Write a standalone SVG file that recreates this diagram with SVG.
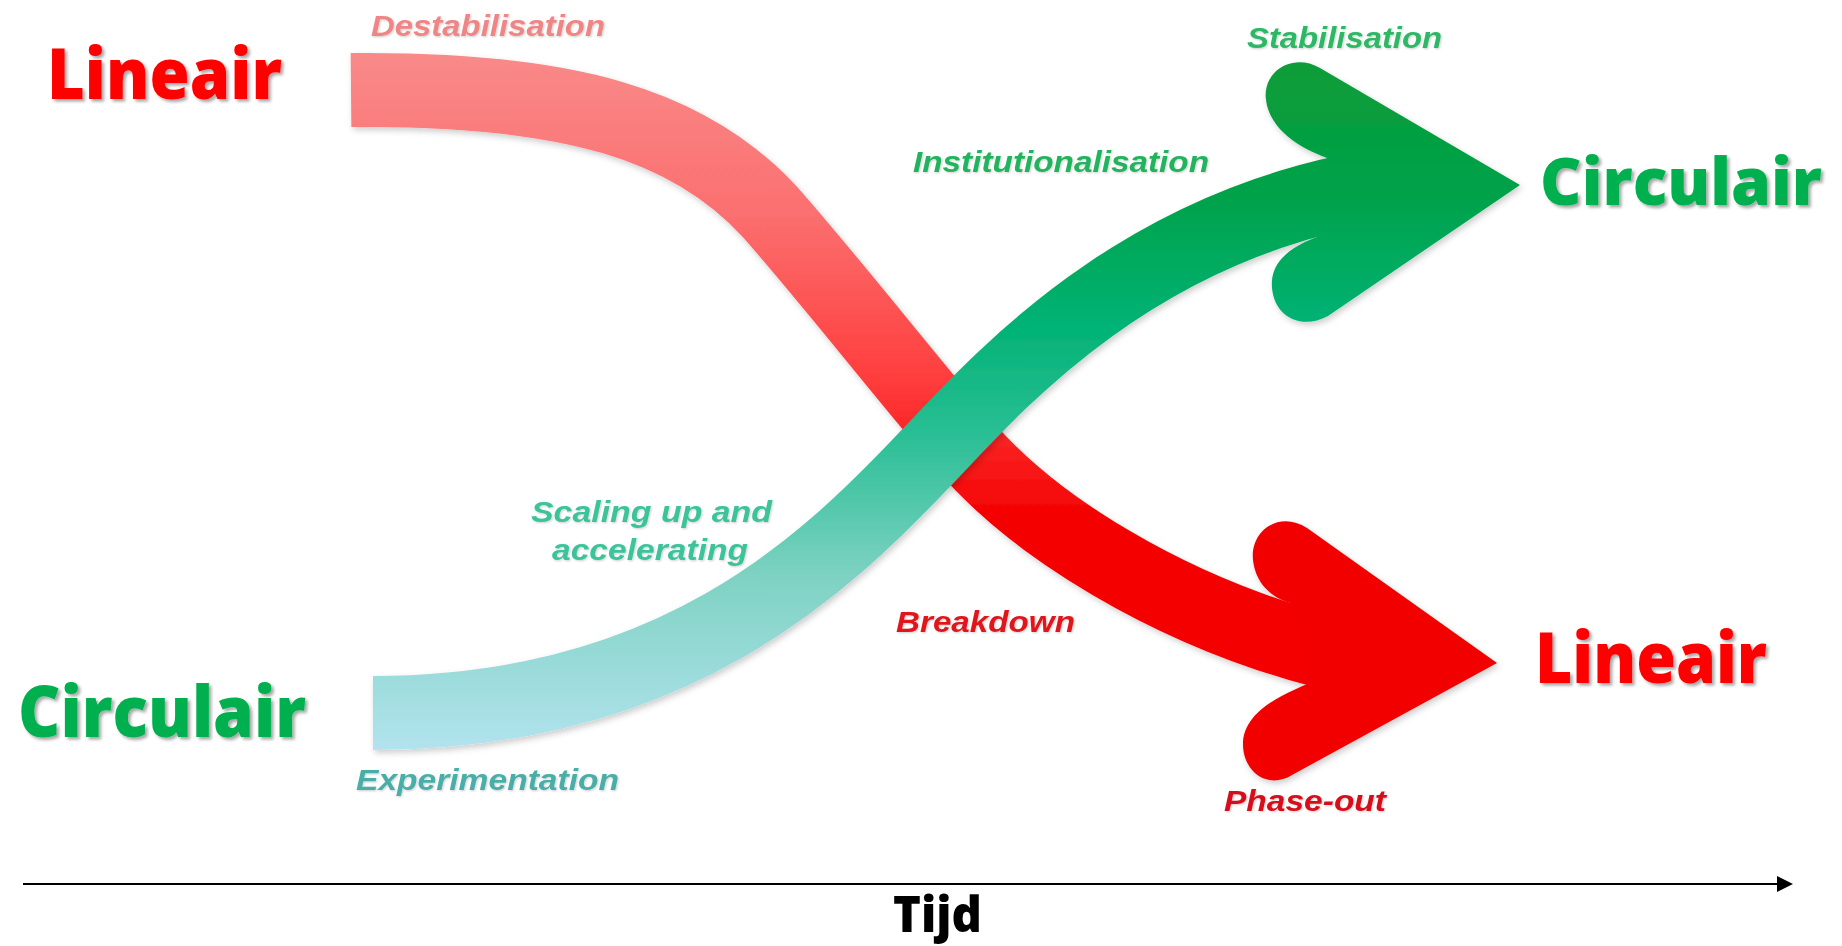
<svg xmlns="http://www.w3.org/2000/svg" width="1842" height="946" viewBox="0 0 1842 946">
<style>
.big{font-family:"Open Sans","Noto Sans","Liberation Sans",sans-serif;font-weight:800;font-size:70px;filter:url(#tsh)}
.red{fill:#ff0000}
.grn{fill:#00b050}
.lab{font-family:"Liberation Sans",Arial,sans-serif;font-weight:bold;font-style:italic;font-size:30px;filter:url(#lsh)}
.axis{stroke:#000;stroke-width:2;fill:none}
.tijd{font-family:"Open Sans","Noto Sans","Liberation Sans",sans-serif;font-weight:800;font-size:50px;fill:#000}
</style>
<defs>
<linearGradient id="gRed" gradientUnits="userSpaceOnUse" x1="0" y1="50" x2="0" y2="520">
<stop offset="0" stop-color="#f98a8a"/>
<stop offset="0.35" stop-color="#fb6f6f"/>
<stop offset="0.7" stop-color="#ff3d3d"/>
<stop offset="1" stop-color="#f40000"/>
</linearGradient>
<linearGradient id="gGrn" gradientUnits="userSpaceOnUse" x1="0" y1="60" x2="0" y2="750">
<stop offset="0" stop-color="#089c37"/>
<stop offset="0.2" stop-color="#04a24a"/>
<stop offset="0.38" stop-color="#00b274"/>
<stop offset="0.55" stop-color="#2cbf96"/>
<stop offset="0.75" stop-color="#7fd2c3"/>
<stop offset="1" stop-color="#b2e3ee"/>
</linearGradient>
<filter id="tsh" x="-1%" y="-10%" width="105%" height="125%">
<feDropShadow dx="2.5" dy="2.5" stdDeviation="1.5" flood-color="#000" flood-opacity="0.35"/>
</filter>
<filter id="lsh" x="-1%" y="-10%" width="105%" height="125%">
<feDropShadow dx="1" dy="1" stdDeviation="1" flood-color="#000" flood-opacity="0.2"/>
</filter>
<filter id="rsh" x="-5%" y="-8%" width="115%" height="120%">
<feDropShadow dx="2" dy="3" stdDeviation="3" flood-color="#000" flood-opacity="0.2"/>
</filter>
<marker id="axArrow" markerWidth="16" markerHeight="16" refX="0" refY="8" orient="auto" markerUnits="userSpaceOnUse">
<path d="M0,0 L16,8 L0,16 Z" fill="#000"/>
</marker>
</defs>
<rect width="1842" height="946" fill="#fff"/>

<g id="connectors">
<g id="red-ribbon" filter="url(#rsh)">
<path d="M351,90 C570,88 690,125 770,212 C830,280 900,370 960,440 C1030,525 1170,612 1330,653" fill="none" stroke="url(#gRed)" stroke-width="74"/>
<path d="M1497,663 L1307,528 C1280,510 1250,530 1253,560 C1256,585 1272,597 1290,603 L1310,683 C1280,695 1245,712 1243,742 C1242,772 1268,790 1292,775 Z" fill="#f20000"/>
</g>
<g id="green-ribbon" filter="url(#rsh)">
<path d="M373,713 C673,713 825,565 928,456 C997,383 1126,237 1350,191" fill="none" stroke="url(#gGrn)" stroke-width="74"/>
<path d="M1520,185 L1320,68 C1292,52 1262,72 1266,100 C1270,130 1300,148 1327,158 L1317,237 C1290,247 1270,262 1272,288 C1275,318 1302,330 1328,316 Z" fill="url(#gGrn)"/>
</g>
<g id="time-axis">
<line class="axis" x1="23" y1="884" x2="1777" y2="884" marker-end="url(#axArrow)"/>
</g>
</g>

<g id="node-lineair-top"><text class="big red" x="47" y="99" textLength="235" lengthAdjust="spacingAndGlyphs">Lineair</text></g>
<g id="node-circulair-bottom"><text class="big grn" x="18" y="737" textLength="288" lengthAdjust="spacingAndGlyphs">Circulair</text></g>
<g id="node-circulair-right"><text class="big grn" x="1540" y="205" font-size="66" textLength="282" lengthAdjust="spacingAndGlyphs" style="font-size:66px">Circulair</text></g>
<g id="node-lineair-right"><text class="big red" x="1535" y="683" textLength="232" lengthAdjust="spacingAndGlyphs">Lineair</text></g>
<g id="node-tijd"><text class="tijd" x="893" y="932" textLength="89" lengthAdjust="spacingAndGlyphs">Tijd</text></g>

<g id="label-destabilisation"><text class="lab" x="371" y="36" fill="#f08585" textLength="234" lengthAdjust="spacingAndGlyphs">Destabilisation</text></g>
<g id="label-stabilisation"><text class="lab" x="1247" y="48" fill="#2db865" textLength="195" lengthAdjust="spacingAndGlyphs">Stabilisation</text></g>
<g id="label-institutionalisation"><text class="lab" x="913" y="172" fill="#22b35e" textLength="296" lengthAdjust="spacingAndGlyphs">Institutionalisation</text></g>
<g id="label-scaling">
<text class="lab" x="531" y="522" fill="#3cc39a" textLength="241" lengthAdjust="spacingAndGlyphs">Scaling up and</text>
<text class="lab" x="552" y="560" fill="#3cc39a" textLength="196" lengthAdjust="spacingAndGlyphs">accelerating</text>
</g>
<g id="label-experimentation"><text class="lab" x="356" y="790" fill="#4aaea8" textLength="263" lengthAdjust="spacingAndGlyphs">Experimentation</text></g>
<g id="label-breakdown"><text class="lab" x="896" y="632" fill="#e0191c" textLength="179" lengthAdjust="spacingAndGlyphs">Breakdown</text></g>
<g id="label-phaseout"><text class="lab" x="1224" y="811" fill="#d8101a" textLength="162" lengthAdjust="spacingAndGlyphs">Phase-out</text></g>
</svg>
